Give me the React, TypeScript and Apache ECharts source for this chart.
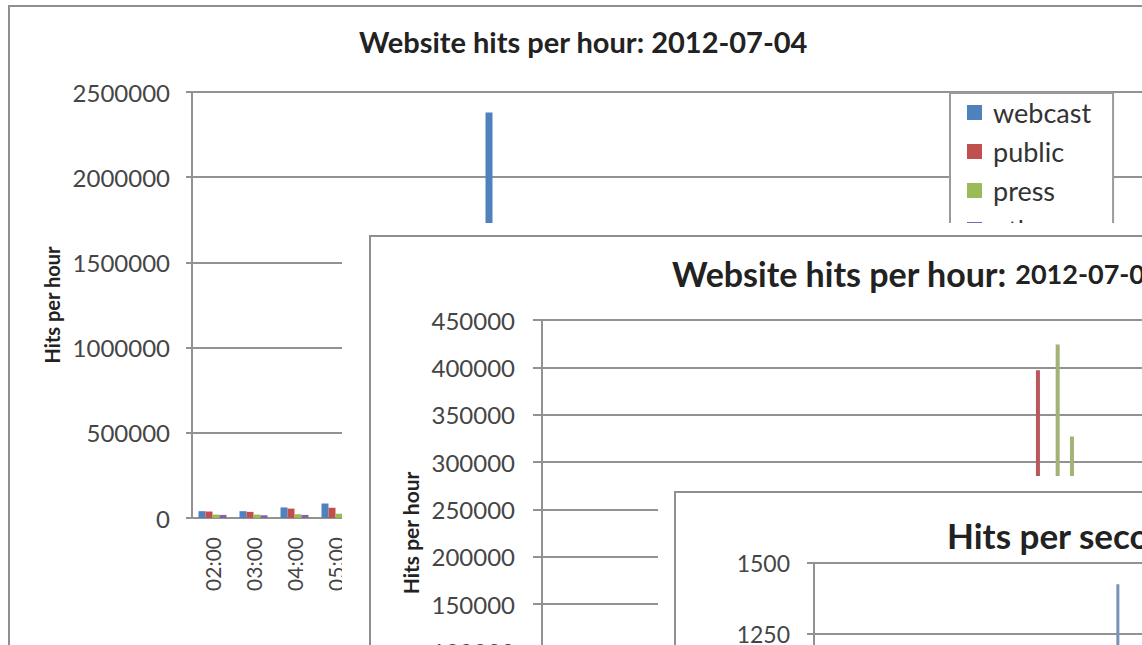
import React, { useEffect, useRef } from "react";
import * as echarts from "echarts";

// ---------- data ----------
const FONT = 'Lato, "Open Sans", sans-serif';

// Chart 1: hourly hits, 2012-07-04
const hours = [
  "02:00", "03:00", "04:00", "05:00", "06:00", "07:00", "08:00", "09:00",
  "10:00", "11:00", "12:00", "13:00", "14:00", "15:00", "16:00", "17:00",
  "18:00", "19:00", "20:00", "21:00", "22:00", "23:00", "00:00", "01:00",
];
const webcast = [40000, 40000, 62000, 85000, 90000, 120000, 160000, 2380000, 900000, 300000, 200000, 150000, 120000, 110000, 100000, 90000, 80000, 70000, 60000, 50000, 45000, 40000, 40000, 38000];
const publicHits = [38000, 36000, 55000, 60000, 70000, 90000, 120000, 200000, 250000, 300000, 280000, 260000, 397000, 240000, 200000, 180000, 160000, 140000, 120000, 100000, 80000, 60000, 50000, 42000];
const press = [20000, 20000, 22000, 25000, 30000, 40000, 60000, 150000, 200000, 180000, 160000, 150000, 424000, 327000, 150000, 120000, 100000, 80000, 60000, 50000, 40000, 30000, 25000, 22000];
const other = [18000, 16000, 18000, 20000, 22000, 30000, 40000, 80000, 90000, 80000, 70000, 60000, 60000, 55000, 50000, 45000, 40000, 35000, 30000, 25000, 22000, 20000, 18000, 18000];
const seriesNames = ["webcast", "public", "press", "other"];
const seriesColors = ["#4F81BD", "#C0504D", "#9BBB59", "#8064A2"];

// Chart 2: hits per hour (zoomed scale), peaks
const public2: [string, number][] = [["14:09", 397000]];
const press2: [string, number][] = [["14:38", 424000], ["14:59", 327000]];

// Chart 3: hits per second
const perSecond: [string, number][] = [["09:00", 1425]];

// tick settings
const yTicks1 = { min: 0, max: 2500000, interval: 500000 };
const yTicks2 = { min: 0, max: 450000, interval: 50000 };
const yTicks3 = { min: 0, max: 1500, interval: 250 };

const toHours = (t: string) => {
  const [h, m] = t.split(":").map(Number);
  return h + m / 60;
};

const GRID_COLOR = "#929292";
const LABEL_COLOR = "#454545";

function yAxisBase(t: { min: number; max: number; interval: number }, fontSize: number, margin: number, tickLen: number) {
  return {
    type: "value",
    min: t.min,
    max: t.max,
    interval: t.interval,
    axisLine: { show: true, lineStyle: { color: GRID_COLOR, width: 2 } },
    axisTick: { show: true, length: tickLen, lineStyle: { color: GRID_COLOR, width: 2 } },
    axisLabel: { fontSize, margin, color: LABEL_COLOR, fontFamily: FONT, formatter: (v: number) => String(v) },
    splitLine: { lineStyle: { color: GRID_COLOR, width: 2 } },
  };
}

function border(x: number, y: number, w: number, h: number) {
  return {
    type: "rect",
    shape: { x, y, width: w, height: h },
    style: { fill: "none", stroke: "#8f8f8f", lineWidth: 2 },
    z: 100,
  };
}

function useChart(build: () => any) {
  const ref = useRef<HTMLDivElement>(null);
  useEffect(() => {
    if (!ref.current) return;
    const chart = echarts.init(ref.current, undefined, { renderer: "svg" });
    chart.setOption(build());
    return () => chart.dispose();
  }, []);
  return ref;
}

function option1() {
  const data = [webcast, publicHits, press, other];
  return {
    animation: false,
    backgroundColor: "#fff",
    graphic: [border(9, 6, 1220, 680)],
    title: {
      text: "Website hits per hour: 2012-07-04",
      left: 354,
      top: 22,
      textStyle: { fontFamily: FONT, fontSize: 29, fontWeight: "bold", color: "#222" },
    },
    legend: {
      orient: "vertical",
      left: 950,
      top: 93,
      padding: [6, 22, 8, 17],
      itemGap: 12,
      itemWidth: 15,
      itemHeight: 15,
      icon: "rect",
      borderColor: "#9a9a9a",
      borderWidth: 2,
      backgroundColor: "#fff",
      textStyle: { fontFamily: FONT, fontSize: 27, color: "#333", padding: [0, 0, 0, 6] },
      data: seriesNames,
    },
    grid: { left: 192, top: 92, width: 984, height: 426 },
    xAxis: {
      type: "category",
      data: hours,
      axisLine: { lineStyle: { color: GRID_COLOR, width: 2 } },
      axisTick: { show: false },
      axisLabel: { rotate: 90, interval: 0, fontSize: 21, margin: 19, color: LABEL_COLOR, fontFamily: FONT },
    },
    yAxis: {
      ...yAxisBase(yTicks1, 24, 22, 6),
      name: "Hits per hour",
      nameLocation: "middle",
      nameGap: 130,
      nameTextStyle: { fontFamily: FONT, fontSize: 20, fontWeight: "bold", color: "#222" },
    },
    series: seriesNames.map((n, i) => ({
      name: n,
      type: "bar",
      data: data[i],
      barWidth: 7,
      barGap: "0%",
      itemStyle: { color: seriesColors[i] },
    })),
  };
}

function option2() {
  return {
    animation: false,
    backgroundColor: "#fff",
    graphic: [border(28, 13, 1100, 560)],
    title: {
      text: "{a|Website hits per hour: }{b|2012-07-04}",
      left: 325,
      top: 28,
      textStyle: {
        rich: {
          a: { fontFamily: FONT, fontSize: 34, fontWeight: "bold", color: "#222" },
          b: { fontFamily: FONT, fontSize: 27, fontWeight: "bold", color: "#222" },
        },
      },
    },
    grid: { left: 200, top: 97, width: 898, height: 426 },
    xAxis: {
      type: "value",
      min: 2,
      max: 24,
      axisLine: { show: true, lineStyle: { color: GRID_COLOR, width: 2 } },
      axisTick: { show: false },
      axisLabel: { show: false },
      splitLine: { show: false },
    },
    yAxis: {
      ...yAxisBase(yTicks2, 24, 27, 9),
      name: "Hits per hour",
      nameLocation: "middle",
      nameGap: 120,
      nameTextStyle: { fontFamily: FONT, fontSize: 21, fontWeight: "bold", color: "#222" },
    },
    series: [
      {
        name: "public",
        type: "bar",
        barWidth: 4,
        data: public2.map(([t, v]) => [toHours(t), v]),
        itemStyle: { color: "#B8575C" },
      },
      {
        name: "press",
        type: "bar",
        barWidth: 4,
        barGap: "-100%",
        data: press2.map(([t, v]) => [toHours(t), v]),
        itemStyle: { color: "#A3B275" },
      },
    ],
  };
}

function option3() {
  return {
    animation: false,
    backgroundColor: "#fff",
    graphic: [border(17, 16, 1100, 560)],
    title: {
      text: "Hits per second",
      left: 284,
      top: 36,
      textStyle: { fontFamily: FONT, fontSize: 35, fontWeight: "bold", color: "#222" },
    },
    grid: { left: 156, top: 87, width: 955, height: 426 },
    xAxis: {
      type: "value",
      min: 2,
      max: 24,
      axisLine: { show: true, lineStyle: { color: GRID_COLOR, width: 2 } },
      axisTick: { show: false },
      axisLabel: { show: false },
      splitLine: { show: false },
    },
    yAxis: yAxisBase(yTicks3, 23, 24, 7),
    series: [
      {
        name: "hits/s",
        type: "bar",
        barWidth: 3,
        data: perSecond.map(([t, v]) => [toHours(t), v]),
        itemStyle: { color: "#7892B6" },
      },
    ],
  };
}

export default function App() {
  const r1 = useChart(option1);
  const r2 = useChart(option2);
  const r3 = useChart(option3);
  return (
    <div
      style={{
        position: "absolute",
        left: 0,
        top: 0,
        width: 1142,
        height: 645,
        overflow: "hidden",
        background: "#fff",
      }}
    >
      <div ref={r1} style={{ position: "absolute", left: 0, top: 0, width: 1240, height: 700, background: "#fff" }} />
      <div ref={r2} style={{ position: "absolute", left: 342, top: 223, width: 1150, height: 600, background: "#fff" }} />
      <div ref={r3} style={{ position: "absolute", left: 658, top: 476, width: 1200, height: 600, background: "#fff" }} />
    </div>
  );
}
